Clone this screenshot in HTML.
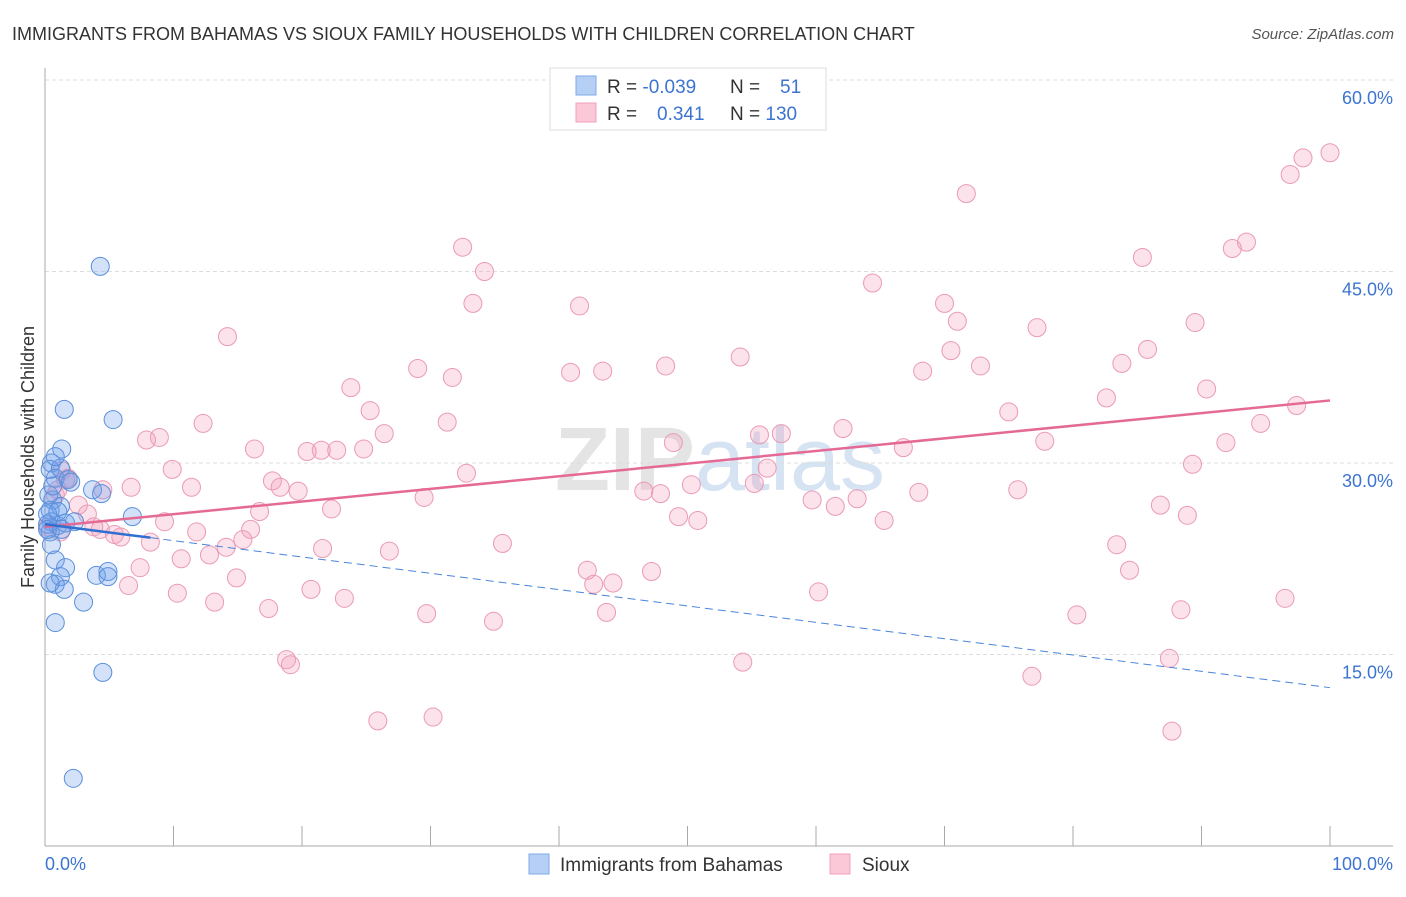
<!DOCTYPE html>
<html><head><meta charset="utf-8"><style>
body{margin:0;background:#fff;font-family:"Liberation Sans",sans-serif}
svg text{font-family:"Liberation Sans",sans-serif}
</style></head><body>
<svg id="chart" width="1406" height="892" xmlns="http://www.w3.org/2000/svg">
<text x="12" y="40" font-size="18" fill="#333">IMMIGRANTS FROM BAHAMAS VS SIOUX FAMILY HOUSEHOLDS WITH CHILDREN CORRELATION CHART</text>
<text x="1394" y="39" font-size="15" fill="#555" font-style="italic" text-anchor="end">Source: ZipAtlas.com</text>
<text x="720" y="490" font-size="90" fill="#e4e4e4" text-anchor="middle" font-weight="bold">ZIP<tspan fill="#d6e3f3" font-weight="normal">atlas</tspan></text>
<g id="grid"></g><g id="axes"></g><g id="pts"></g><g id="trend"></g>
<text transform="translate(34,457) rotate(-90)" font-size="18" fill="#333" text-anchor="middle">Family Households with Children</text>
<g>
<rect x="550" y="68" width="276" height="62" fill="#fff" stroke="#ddd"/>
<rect x="576" y="76" width="20" height="19" fill="#b6d0f5" stroke="#7fa8e6"/>
<rect x="576" y="103" width="20" height="19" fill="#fbc8d7" stroke="#f0a0ba"/>
<text x="607" y="93" font-size="19" fill="#333">R = <tspan fill="#3c74d0">-0.039</tspan></text>
<text x="730" y="93" font-size="19" fill="#333">N = <tspan fill="#3c74d0" x="780">51</tspan></text>
<text x="607" y="120" font-size="19" fill="#333">R = <tspan fill="#3c74d0" x="657">0.341</tspan></text>
<text x="730" y="120" font-size="19" fill="#333">N = <tspan fill="#3c74d0">130</tspan></text>
</g>
<g>
<rect x="529" y="854" width="20" height="20" fill="#b6d0f5" stroke="#7fa8e6"/>
<text x="560" y="871" font-size="19" fill="#333">Immigrants from Bahamas</text>
<rect x="830" y="854" width="20" height="20" fill="#fbc8d7" stroke="#f0a0ba"/>
<text x="862" y="871" font-size="19" fill="#333">Sioux</text>
</g>
</svg>
<script>
const blueX=[4.3,1.5,5.3,1.3,0.5,0.4,1.2,0.8,1.8,3.7,4.4,0.6,1.2,0.4,6.8,0.5,1.0,1.6,2.3,0.4,0.5,0.8,1.6,1.2,4.0,4.9,4.9,0.8,1.5,3.0,0.8,4.5,2.2,0.2,0.3,0.2,0.8,0.2,1.0,0.4,1.3,2.0,0.6];
const blueY=[45.4,34.2,33.4,31.1,30.0,29.5,29.6,28.8,28.7,27.9,27.6,27.1,26.6,26.3,25.8,25.4,25.1,25.3,25.4,24.6,23.6,22.4,21.8,21.1,21.2,21.5,21.1,20.5,20.1,19.1,17.5,13.6,5.3,25.2,27.5,26.0,30.5,24.8,26.2,20.6,24.8,28.5,28.2];
const pinkX=[100,97.9,96.9,71.7,93.5,92.4,85.4,32.5,34.2,64.4,33.3,41.6,70.0,71.0,89.5,77.2,14.2,70.5,85.8,54.1,29.0,48.3,83.8,72.8,40.9,43.4,68.3,31.7,23.8,90.4,82.6,97.4,25.3,75.0,12.3,31.3,94.6,62.1,26.4,55.6,57.3,8.9,7.9,77.8,91.9,48.9,16.3,21.5,20.4,22.7,24.8,66.8,9.9,32.8,56.2,89.3,17.7,18.3,11.4,6.7,4.5,50.3,55.2,19.7,46.6,47.9,68.0,75.7,29.5,59.7,63.2,1.0,1.6,2.6,22.3,16.7,61.5,86.8,3.3,49.3,50.8,88.9,65.3,9.3,3.8,4.3,11.8,16.0,5.4,5.9,15.4,8.2,14.1,35.6,83.4,21.6,26.8,12.8,10.6,7.4,84.4,42.2,47.2,14.9,6.5,42.7,44.2,20.7,10.3,60.2,96.5,23.3,13.2,17.4,88.4,29.7,43.7,80.3,34.9,18.8,19.1,54.3,87.5,76.8,25.9,30.2,87.7,0.8,1.3,1.8,0.2,1.2];
const pinkY=[54.3,53.9,52.6,51.1,47.3,46.8,46.1,46.9,45.0,44.1,42.5,42.3,42.5,41.1,41.0,40.6,39.9,38.8,38.9,38.3,37.4,37.6,37.8,37.6,37.1,37.2,37.2,36.7,35.9,35.8,35.1,34.5,34.1,34.0,33.1,33.2,33.1,32.7,32.3,32.2,32.3,32.0,31.8,31.7,31.6,31.6,31.1,31.0,30.9,31.0,31.1,31.2,29.5,29.2,29.6,29.9,28.6,28.1,28.1,28.1,27.9,28.3,28.4,27.8,27.8,27.6,27.7,27.9,27.3,27.1,27.2,27.9,28.7,26.7,26.4,26.2,26.6,26.7,26.0,25.8,25.5,25.9,25.5,25.4,25.0,24.8,24.6,24.8,24.4,24.2,24.0,23.8,23.4,23.7,23.6,23.3,23.1,22.8,22.5,21.8,21.6,21.6,21.5,21.0,20.4,20.5,20.6,20.1,19.8,19.9,19.4,19.4,19.1,18.6,18.5,18.2,18.3,18.1,17.6,14.6,14.2,14.4,14.7,13.3,9.8,10.1,9.0,27.5,29.4,28.8,25.0,24.6];
const yTicks=[15,30,45,60];
const xTickVals=[0,10,20,30,40,50,60,70,80,90,100];
const pinkTrend=[25.0,34.9];
const blueTrend=[25.2,12.4];
const blueSolidEnd=8.2;
const NS="http://www.w3.org/2000/svg";
const sx=v=>45+v*12.85, sy=v=>846-v*12.767;
function mk(tag,attrs,parent){const e=document.createElementNS(NS,tag);for(const k in attrs)e.setAttribute(k,attrs[k]);parent.appendChild(e);return e;}
const grid=document.getElementById('grid'),axes=document.getElementById('axes'),pts=document.getElementById('pts'),tr=document.getElementById('trend');
yTicks.forEach(t=>{
 const l=mk('line',{x1:45,x2:1393,y1:sy(t),y2:sy(t),stroke:'#ddd','stroke-dasharray':'4,3'},grid);
 
 
 const tx=mk('text',{x:1393,y:sy(t)+24,'font-size':18,fill:'#3c74d0','text-anchor':'end'},grid);
 tx.textContent=t.toFixed(1)+'%';
 
 
});
const ya=mk('line',{x1:45,x2:45,y1:68,y2:846,stroke:'#aaa'},axes);


const xa=mk('line',{x1:45,x2:1393,y1:846,y2:846,stroke:'#aaa'},axes);


xTickVals.forEach(t=>{
 const l=mk('line',{x1:sx(t),x2:sx(t),y1:826,y2:846,stroke:'#aaa'},axes);
 
 
});
const x0=mk('text',{x:45,y:870,'font-size':18,fill:'#3c74d0'},axes);x0.textContent='0.0%';


const x1=mk('text',{x:1393,y:870,'font-size':18,fill:'#3c74d0','text-anchor':'end'},axes);x1.textContent='100.0%';


pinkX.forEach((x,i)=>{
 const c=mk('circle',{cx:sx(x),cy:sy(pinkY[i]),r:9,fill:'rgba(243,160,188,0.3)',stroke:'#eb9ab6','stroke-width':1},pts);
 
 
});
blueX.forEach((x,i)=>{
 const c=mk('circle',{cx:sx(x),cy:sy(blueY[i]),r:9,fill:'rgba(110,160,235,0.3)',stroke:'#5b8fdb','stroke-width':1},pts);
 
 
});
const pl=mk('line',{x1:sx(0),y1:sy(pinkTrend[0]),x2:sx(100),y2:sy(pinkTrend[1]),stroke:'#e46a95','stroke-width':2.5},tr);


const bm=v=>blueTrend[0]+(blueTrend[1]-blueTrend[0])*v/100;
const bs=mk('line',{x1:sx(0),y1:sy(bm(0)),x2:sx(blueSolidEnd),y2:sy(bm(blueSolidEnd)),stroke:'#2f6fd0','stroke-width':2.5},tr);


const bd=mk('line',{x1:sx(blueSolidEnd),y1:sy(bm(blueSolidEnd)),x2:sx(100),y2:sy(bm(100)),stroke:'#4a84d8','stroke-width':1,'stroke-dasharray':'8,5'},tr);


</script>
</body></html>
